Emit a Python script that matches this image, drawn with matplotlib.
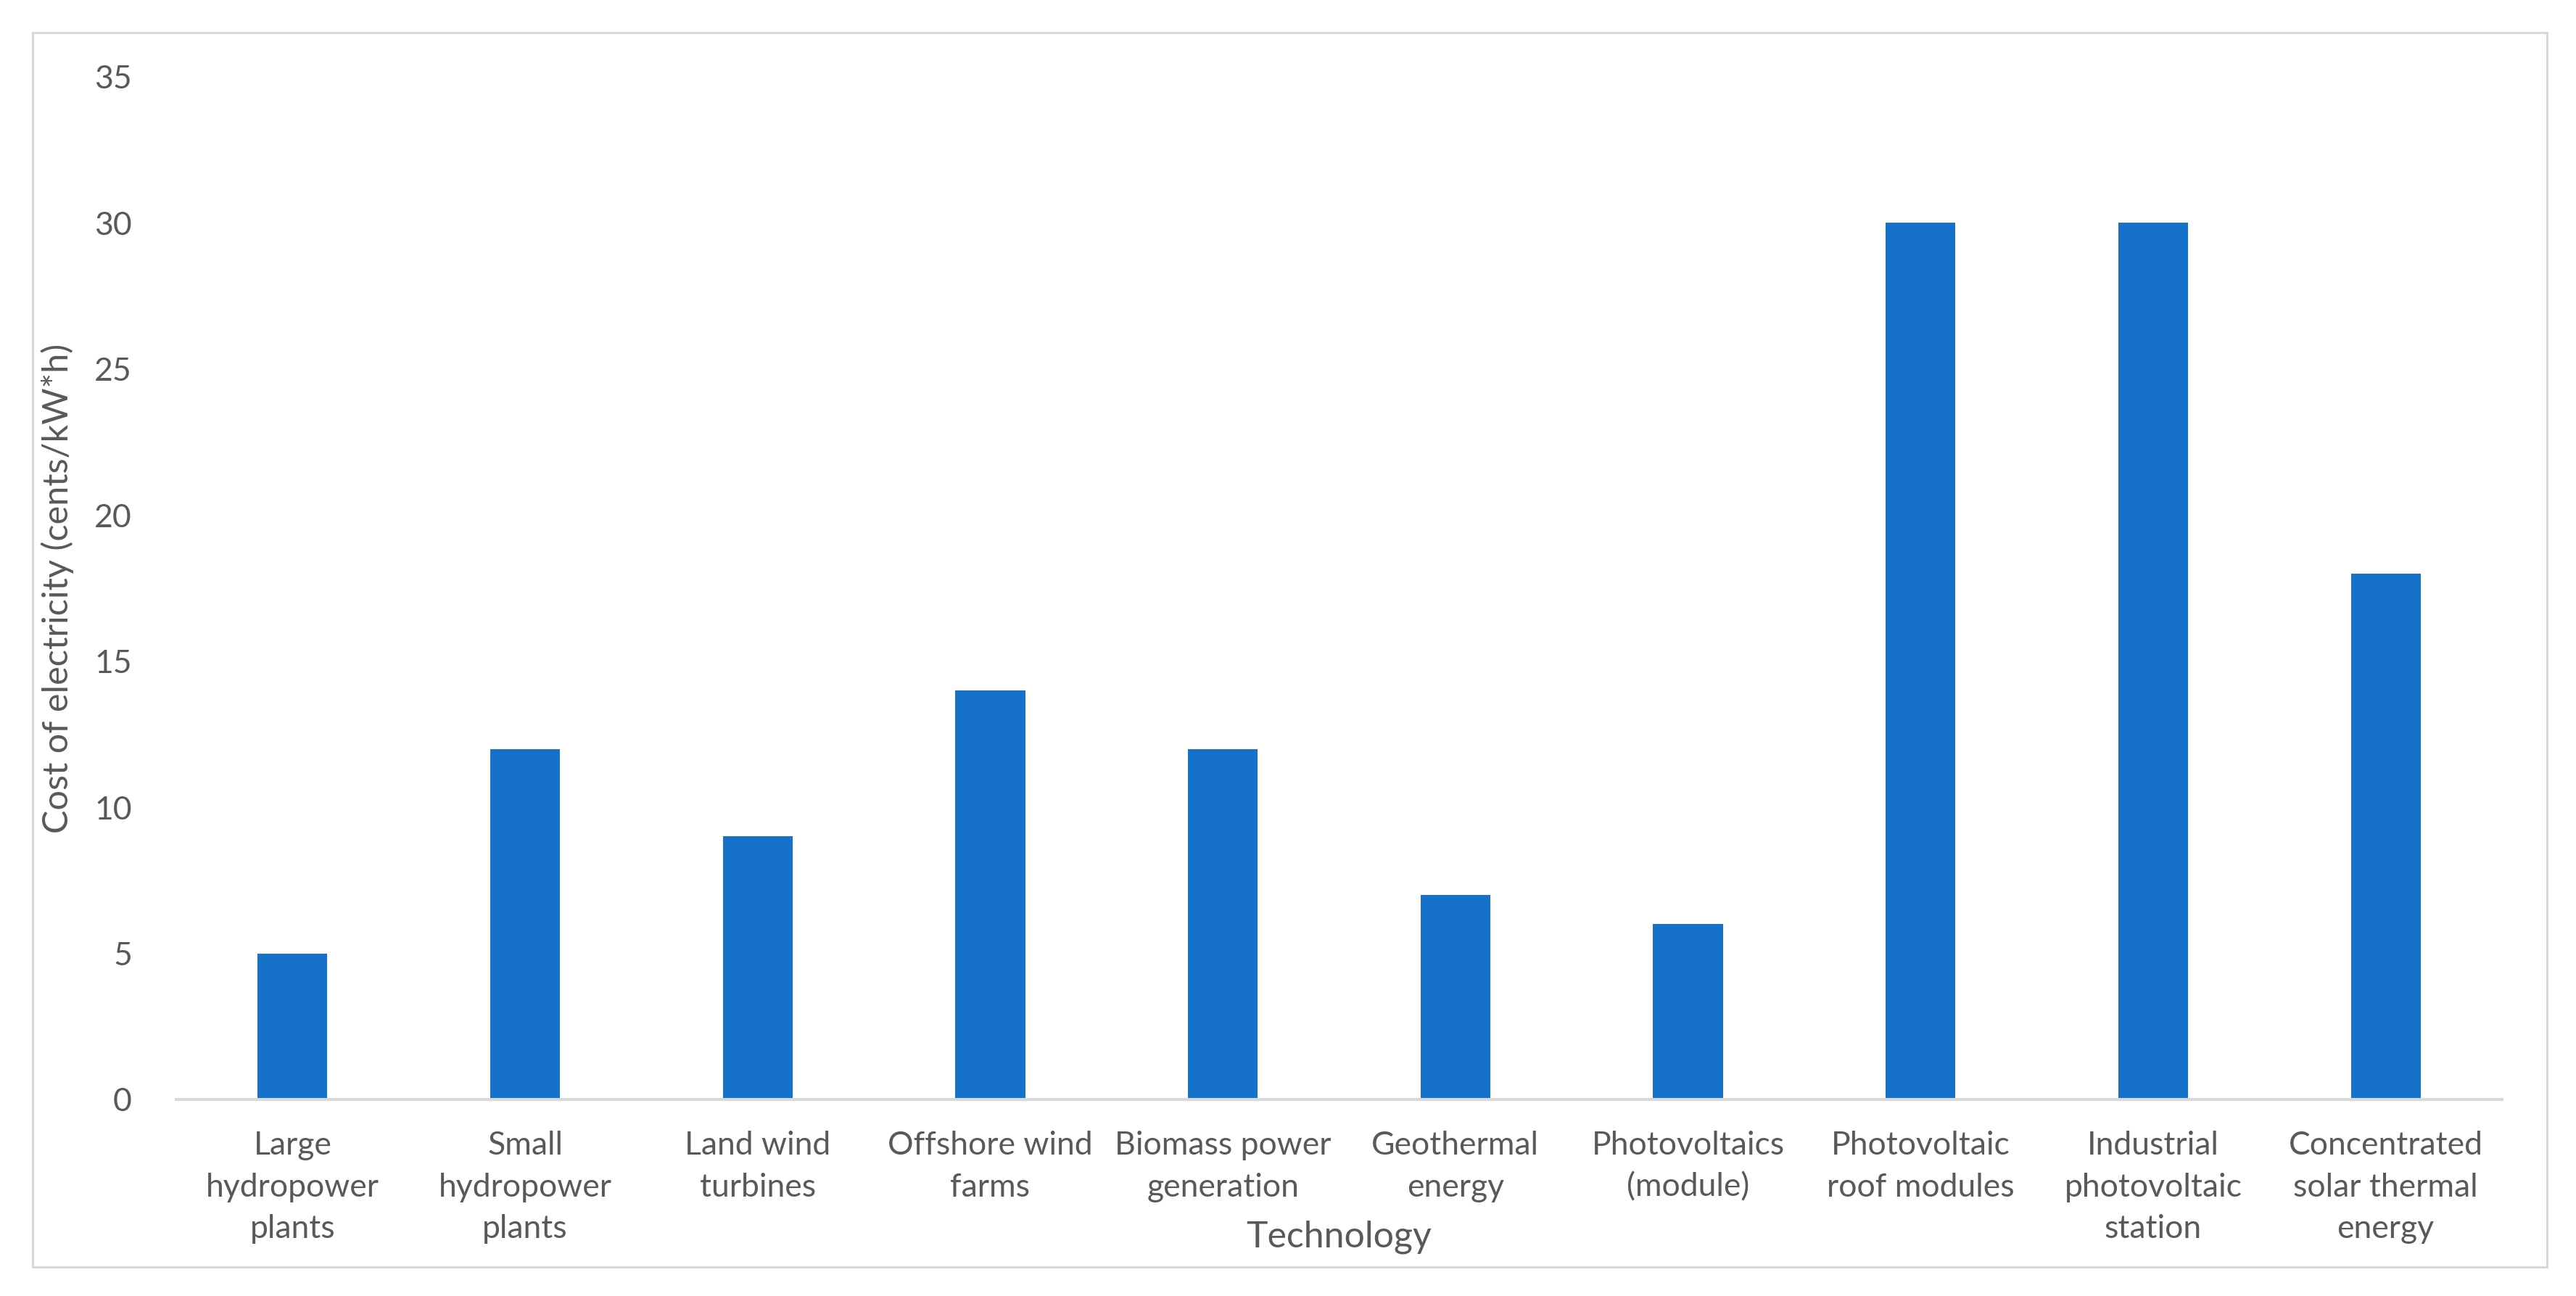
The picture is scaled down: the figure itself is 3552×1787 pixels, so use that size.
import matplotlib
matplotlib.use("Agg")
import matplotlib.pyplot as plt
from matplotlib.patches import Rectangle

categories = [
    "Large\nhydropower\nplants",
    "Small\nhydropower\nplants",
    "Land wind\nturbines",
    "Offshore wind\nfarms",
    "Biomass power\ngeneration",
    "Geothermal\nenergy",
    "Photovoltaics\n(module)",
    "Photovoltaic\nroof modules",
    "Industrial\nphotovoltaic\nstation",
    "Concentrated\nsolar thermal\nenergy",
]
values = [5, 12, 9, 14, 12, 7, 6, 30, 30, 18]
yticks = [0, 5, 10, 15, 20, 25, 30, 35]

TEXT = "#595959"
BAR = "#1571C9"
LINE = "#D9D9D9"

plt.rcParams["font.family"] = ["Lato", "DejaVu Sans"]

W, H = 3552, 1787
fig = plt.figure(figsize=(W / 100, H / 100), dpi=100)
fig.patch.set_facecolor("white")

# outer chart border
fig.patches.append(Rectangle((45 / W, 1 - 1747 / H), (3512 - 45) / W, (1747 - 45) / H,
                             transform=fig.transFigure, fill=False,
                             edgecolor=LINE, linewidth=2.2, zorder=0))

ax = fig.add_axes([243 / W, 1 - 1516 / H, (3450 - 243) / W, (1516 - 106) / H])
x = list(range(len(categories)))
ax.bar(x, values, width=0.30, color=BAR, zorder=2)
ax.set_xlim(-0.5, len(categories) - 0.5)
ax.set_ylim(0, 35)
ax.set_yticks(yticks)
ax.set_xticks(x)
ax.set_xticklabels(categories, fontsize=32, color=TEXT, linespacing=1.5)
ax.tick_params(axis="y", length=0, pad=44, labelsize=32, labelcolor=TEXT)
ax.tick_params(axis="x", length=0, pad=31)
for s in ["top", "right", "left"]:
    ax.spines[s].set_visible(False)
ax.spines["bottom"].set_color(LINE)
ax.spines["bottom"].set_linewidth(3)

ax.set_ylabel("Cost of electricity (cents/kW*h)", fontsize=35, color=TEXT)
ax.yaxis.set_label_coords((102 - 243) / (3450 - 243), 0.5)
fig.text(1846 / W, 1 - 1706 / H, "Technology", fontsize=36, color=TEXT,
         ha="center", va="center")

fig.savefig("out.png", dpi=100, facecolor="white")
